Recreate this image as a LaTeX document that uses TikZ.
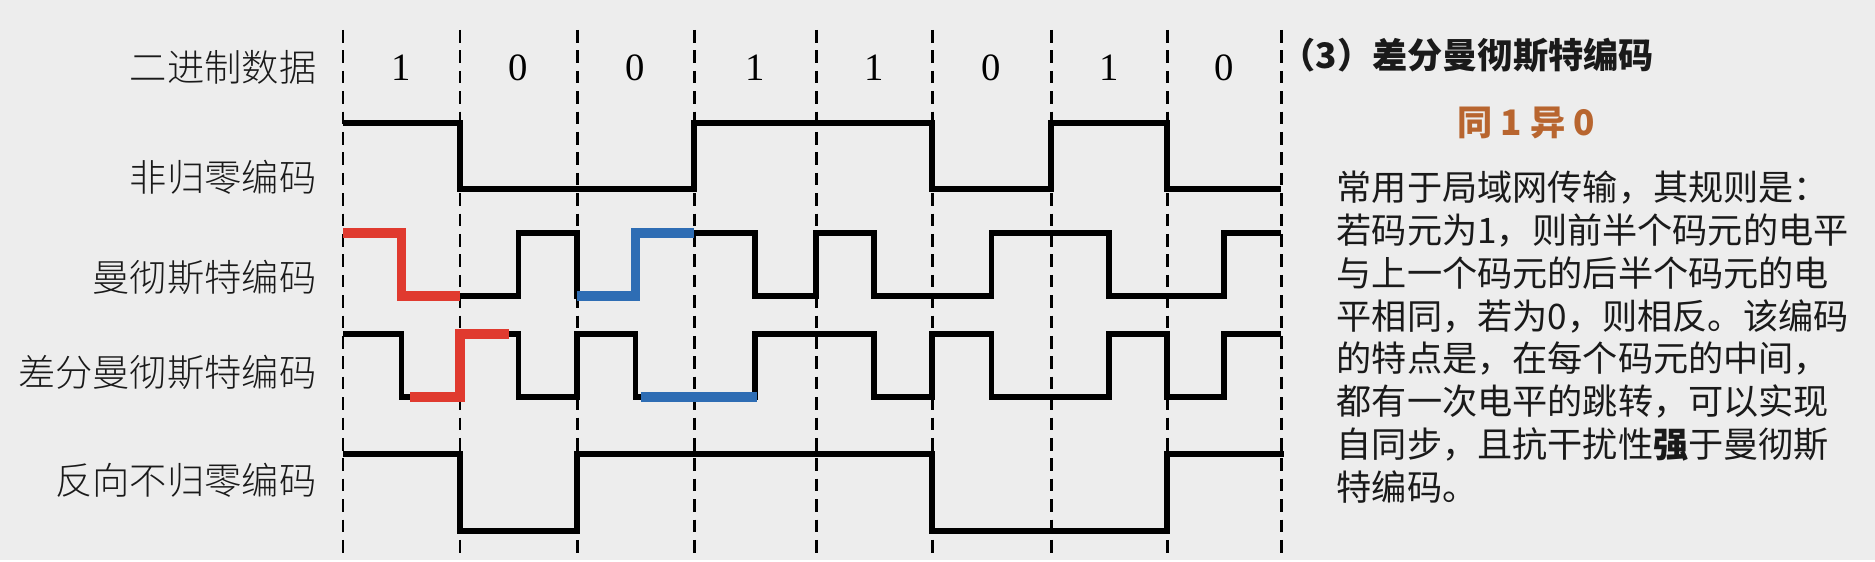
\documentclass[tikz,border=0pt]{standalone}
\usepackage{fontspec}
\setmainfont{Liberation Serif}
\newfontfamily\cjk{Noto Sans CJK SC}
\newfontfamily\cjklight{Noto Sans CJK SC}[UprightFont=* Light]
\definecolor{SLDgray}{HTML}{EDEDED}
\definecolor{SLDred}{HTML}{E03A2F}
\definecolor{SLDblue}{HTML}{2E6DB4}
\definecolor{SLDbrown}{HTML}{B8652F}
\definecolor{SLDtext}{HTML}{1A1A1A}
\usetikzlibrary{positioning}

\begin{document}
\begin{tikzpicture}[x=0.01cm, y=-0.01cm,
      wave/.style={line width=1.6pt, line join=miter},
      hired/.style={SLDred, line width=2.8pt},
      hiblue/.style={SLDblue, line width=2.8pt},
      slot/.style={dash pattern=on 3.6pt off 2.2pt, line width=0.85pt},
      rowlabel/.style={anchor=east, inner sep=0pt, text=SLDtext,
         font=\cjklight\fontsize{10.6}{12}\selectfont},
      bitval/.style={inner sep=0pt, font=\fontsize{11}{12}\selectfont}]
   % Background
   \fill[SLDgray] (0,0) rectangle (1875,560);
   % Bit slots
   \foreach \x in {343,460,577,694,816,932,1051,1167,1281}
      \draw[slot] (\x,30) -- (\x,560);
   % Binary data
   \foreach \x/\b [count=\i from 0] in {401.5/1,518.5/0,635.5/0,755/1,874/1,991.5/0,1109/1,1224/0}
      \node[bitval] (bit\i) at (\x,68) {\b};
   % Row labels
   \node[rowlabel] (lblData) at (317,67) {二进制数据};
   \node[rowlabel] (lblNRZ) at (317,177) {非归零编码};
   \node[rowlabel] (lblMan) at (317,277) {曼彻斯特编码};
   \node[rowlabel] (lblDMan) at (317,372) {差分曼彻斯特编码};
   \node[rowlabel] (lblNRZI) at (317,480) {反向不归零编码};
   % NRZ
   \draw[wave] (343,123) -- (460,123) -- (460,189) -- (694,189) -- (694,123)
      -- (932,123) -- (932,189) -- (1051,189) -- (1051,123) -- (1167,123)
      -- (1167,189) -- (1281,189);
   % Manchester
   \draw[wave] (343,233) -- (401.5,233) -- (401.5,296) -- (518.5,296)
      -- (518.5,233) -- (577,233) -- (577,296) -- (635.5,296) -- (635.5,233)
      -- (755,233) -- (755,296) -- (816,296) -- (816,233) -- (874,233)
      -- (874,296) -- (991.5,296) -- (991.5,233) -- (1109,233) -- (1109,296)
      -- (1224,296) -- (1224,233) -- (1281,233);
   \draw[hired] (343,233) -- (401.5,233) -- (401.5,296) -- (460,296);
   \draw[hiblue] (577,296) -- (635.5,296) -- (635.5,233) -- (694,233);
   % Differential Manchester
   \draw[wave] (343,334) -- (401.5,334) -- (401.5,397) -- (460,397)
      -- (460,334) -- (518.5,334) -- (518.5,397) -- (577,397) -- (577,334)
      -- (635.5,334) -- (635.5,397) -- (755,397) -- (755,334) -- (874,334)
      -- (874,397) -- (932,397) -- (932,334) -- (991.5,334) -- (991.5,397)
      -- (1109,397) -- (1109,334) -- (1167,334) -- (1167,397) -- (1224,397)
      -- (1224,334) -- (1281,334);
   \draw[hired] (410,397) -- (460,397) -- (460,334) -- (509,334);
   \draw[hiblue] (641,397) -- (757,397);
   % Inverted NRZ
   \draw[wave] (343,454) -- (460,454) -- (460,531) -- (577,531) -- (577,454)
      -- (932,454) -- (932,531) -- (1167,531) -- (1167,454) -- (1284,454);
   % Notes
   \node[anchor=west, inner sep=0pt, text=SLDtext,
      font=\cjk\bfseries\fontsize{10}{12}\selectfont] (title) at (1280,55)
      {（3）差分曼彻斯特编码};
   \node[inner sep=0pt, text=SLDbrown,
      font=\cjk\bfseries\fontsize{10}{12}\selectfont] (rule) at (1526,123)
      {同 1 异 0};
   \node[anchor=north west, inner sep=0pt, align=left, text=SLDtext,
      font=\cjk\fontsize{10}{12.2}\selectfont] (desc) at (1336,170)
      {常用于局域网传输，其规则是：\\
       若码元为1，则前半个码元的电平\\
       与上一个码元的后半个码元的电\\
       平相同，若为0，则相反。该编码\\
       的特点是，在每个码元的中间，\\
       都有一次电平的跳转，可以实现\\
       自同步，且抗干扰性\textbf{强}于曼彻斯\\
       特编码。};
\end{tikzpicture}
\end{document}
